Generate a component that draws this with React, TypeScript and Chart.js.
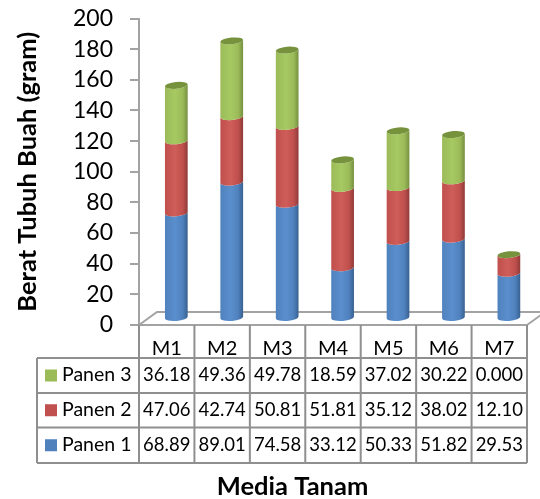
import React, { useEffect, useRef } from "react";
import { Chart, registerables } from "chart.js";

Chart.register(...registerables);

const categories = ["M1", "M2", "M3", "M4", "M5", "M6", "M7"];
const panen1 = [68.89, 89.01, 74.58, 33.12, 50.33, 51.82, 29.53];
const panen2 = [47.06, 42.74, 50.81, 51.81, 35.12, 38.02, 12.1];
const panen3 = [36.18, 49.36, 49.78, 18.59, 37.02, 30.22, 0];
const panen1Labels = ["68.89", "89.01", "74.58", "33.12", "50.33", "51.82", "29.53"];
const panen2Labels = ["47.06", "42.74", "50.81", "51.81", "35.12", "38.02", "12.10"];
const panen3Labels = ["36.18", "49.36", "49.78", "18.59", "37.02", "30.22", "0.000"];
const xTitle = "Media Tanam";
const yTitle = "Berat Tubuh Buah (gram)";

const FONT = "Lato, Carlito, sans-serif";
const GRID = "#a3a3a3";
const TABLE = "#8f8f8f";
const DX = 9.6;
const DY = -6.5;
const RX = 11.4;
const RY = 3.4;
const ROT = -0.09;

const palette = [
  { mid: "#5a8fcd", base: "#4f81bd", edge: "#38608f", cap: "#4f81bd" },
  { mid: "#cf5d59", base: "#c0504d", edge: "#8f3b39", cap: "#c0504d" },
  { mid: "#a6c962", base: "#9bbb59", edge: "#76903f", cap: "#76923c" },
];

const tableRows = [
  { name: "Panen 3", color: "#9bbb59", labels: panen3Labels },
  { name: "Panen 2", color: "#c0504d", labels: panen2Labels },
  { name: "Panen 1", color: "#4f81bd", labels: panen1Labels },
];

const floorPlugin = {
  id: "floor",
  beforeDatasetsDraw(chart: any) {
    const { ctx, chartArea: a } = chart;
    ctx.save();
    ctx.strokeStyle = GRID;
    ctx.lineWidth = 2;
    ctx.beginPath();
    ctx.moveTo(a.left, a.bottom);
    ctx.lineTo(a.left + 18, a.bottom - 13);
    ctx.lineTo(540, a.bottom - 13);
    ctx.moveTo(a.right, a.bottom);
    ctx.lineTo(a.right + 18, a.bottom - 13);
    ctx.moveTo(a.left, a.bottom);
    ctx.lineTo(a.right, a.bottom);
    ctx.stroke();
    ctx.restore();
  },
};

const cylinderPlugin = {
  id: "cylinders",
  afterDatasetsDraw(chart: any) {
    const ctx = chart.ctx;
    ctx.save();
    chart.data.datasets.forEach((_: any, d: number) => {
      const c = palette[d];
      chart.getDatasetMeta(d).data.forEach((bar: any) => {
        const cx = bar.x + DX;
        const top = bar.y + DY;
        const base = bar.base + DY;
        const g = ctx.createLinearGradient(cx - RX, 0, cx + RX, 0);
        g.addColorStop(0, c.base);
        g.addColorStop(0.45, c.mid);
        g.addColorStop(0.78, c.base);
        g.addColorStop(1, c.edge);
        ctx.fillStyle = g;
        ctx.beginPath();
        ctx.ellipse(cx, base, RX, RY, ROT, 0, Math.PI, false);
        ctx.ellipse(cx, top, RX, RY, ROT, Math.PI, 0, true);
        ctx.closePath();
        ctx.fill();
      });
    });
    const last = chart.data.datasets.length - 1;
    chart.getDatasetMeta(last).data.forEach((bar: any) => {
      ctx.fillStyle = palette[last].cap;
      ctx.beginPath();
      ctx.ellipse(bar.x + DX, bar.y + DY, RX, RY, ROT, 0, Math.PI * 2);
      ctx.fill();
    });
    ctx.restore();
  },
};

const tablePlugin = {
  id: "dataTable",
  afterDraw(chart: any) {
    const { ctx, chartArea: a, scales } = chart;
    const x = scales.x;
    const tableLeft = 37;
    const rowTops = [358, 393, 427.5, 463];
    const half = (a.right - a.left) / categories.length / 2;
    ctx.save();
    ctx.strokeStyle = TABLE;
    ctx.lineWidth = 2;
    ctx.beginPath();
    rowTops.forEach((y) => {
      ctx.moveTo(tableLeft, y);
      ctx.lineTo(a.right, y);
    });
    ctx.moveTo(tableLeft, rowTops[0]);
    ctx.lineTo(tableLeft, rowTops[3]);
    ctx.moveTo(a.left, a.bottom);
    ctx.lineTo(a.left, rowTops[3]);
    categories.forEach((_, i) => {
      const r = x.getPixelForValue(i) + half;
      ctx.moveTo(r, a.bottom);
      ctx.lineTo(r, rowTops[3]);
    });
    ctx.stroke();

    ctx.textBaseline = "middle";
    tableRows.forEach((row, ri) => {
      const cy = (rowTops[ri] + rowTops[ri + 1]) / 2;
      ctx.fillStyle = row.color;
      ctx.fillRect(45, cy - 6, 12, 12);
      ctx.fillStyle = "#000";
      ctx.textAlign = "left";
      ctx.font = "19.5px " + FONT;
      ctx.fillText(row.name, 62, cy - 1);
      ctx.textAlign = "center";
      ctx.font = "18.5px " + FONT;
      row.labels.forEach((t, i) => ctx.fillText(t, x.getPixelForValue(i), cy));
    });

    ctx.font = "bold 25.5px " + FONT;
    ctx.textAlign = "center";
    ctx.fillText(xTitle, 292.5, 487);
    ctx.restore();
  },
};

export default function App() {
  const ref = useRef<HTMLCanvasElement>(null);
  useEffect(() => {
    const chart = new Chart(ref.current as HTMLCanvasElement, {
      type: "bar",
      data: {
        labels: categories,
        datasets: [
          { label: "Panen 1", data: panen1, backgroundColor: "rgba(0,0,0,0)", barThickness: 23 },
          { label: "Panen 2", data: panen2, backgroundColor: "rgba(0,0,0,0)", barThickness: 23 },
          { label: "Panen 3", data: panen3, backgroundColor: "rgba(0,0,0,0)", barThickness: 23 },
        ],
      },
      options: {
        responsive: false,
        animation: false,
        layout: { autoPadding: false, padding: { top: 18.5, right: 13, bottom: 0, left: 0 } },
        plugins: { legend: { display: false }, tooltip: { enabled: false } },
        scales: {
          x: {
            stacked: true,
            afterFit: (s: any) => { s.height = 174; },
            grid: { display: false },
            border: { display: false },
            ticks: { color: "#000", font: { family: FONT, size: 20 }, padding: 4, maxRotation: 0 },
          },
          y: {
            stacked: true,
            min: 0,
            max: 200,
            afterFit: (s: any) => { s.width = 139; s.paddingTop = 0; s.paddingBottom = 0; },
            grid: { drawOnChartArea: false, color: GRID, lineWidth: 2, tickLength: 9 },
            border: { color: GRID, width: 2 },
            ticks: { stepSize: 20, autoSkip: false, color: "#000", font: { family: FONT, size: 23 }, padding: 17 },
            title: {
              display: true,
              text: yTitle,
              color: "#000",
              font: { family: FONT, size: 25.5, weight: "bold" },
              padding: { top: 12, bottom: 0 },
            },
          },
        },
      } as any,
      plugins: [floorPlugin, cylinderPlugin, tablePlugin],
    });
    return () => chart.destroy();
  }, []);
  return (
    <div style={{ position: "absolute", left: 0, top: 0, width: 540, height: 499, background: "#fff" }}>
      <canvas ref={ref} width={540} height={499} style={{ display: "block" }} />
    </div>
  );
}
